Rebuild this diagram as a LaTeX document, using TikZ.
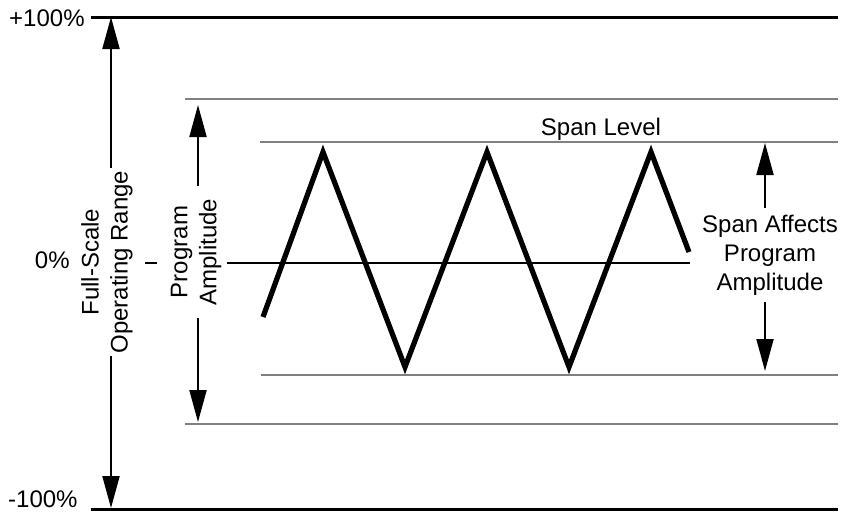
\documentclass[tikz,border=0pt]{standalone}
\usepackage{fontspec}
\setmainfont{Liberation Sans}
\usepackage{tikz}
\usetikzlibrary{arrows.meta, calc}

\begin{document}
\begin{tikzpicture}[x=0.5pt, y=-0.5pt,
    every node/.style={font=\fontsize{12}{14.5}\selectfont, inner sep=0pt},
    rangeline/.style={line width=1.5pt},
    spanline/.style={line width=1.3pt, black!50},
    levelline/.style={line width=0.9pt, black!50},
    dim/.style={line width=1pt, -{Triangle[length=16pt, width=8.5pt]}},
    wave/.style={line width=2.6pt, line join=miter}]
    \useasboundingbox (0,0) rectangle (845,514);

    % range limits
    \draw[rangeline] (91,17) -- (838,17);
    \draw[rangeline] (91,509) -- (838,509);
    \draw[spanline] (185,99) -- (838,99);
    \draw[spanline] (185,424) -- (838,424);
    \draw[levelline] (260,142) -- (838,142);
    \draw[levelline] (261,375) -- (838,375);
    \draw[line width=1pt] (145,263) -- (157,263);
    \draw[line width=1pt] (227,263) -- (690,263);

    \node[anchor=base east] (plus) at (85,26) {+100\%};
    \node[anchor=base east] (zero) at (70,268) {0\%};
    \node[anchor=base east] (minus) at (78,507) {-100\%};
    \node[anchor=base] (level) at (601,135) {Span Level};

    % program signal
    \draw[wave] (263,317) -- (323,152) -- (405,367) -- (487,152) -- (569,367)
        -- (651,152) -- (689,252);

    \coordinate (fstop) at (111,17);
    \coordinate (fsbot) at (111,508);
    \coordinate (patop) at (198,105);
    \coordinate (pabot) at (198,422);
    \coordinate (sptop) at (765,143);
    \coordinate (spbot) at (765,371);

    \node[rotate=90, align=center, inner sep=1pt] (fs) at (107,262)
        {Full-Scale\\Operating Range};
    \node[rotate=90, align=center, inner sep=6pt] (pa) at (196,252)
        {Program\\Amplitude};
    \node[align=center, inner sep=3pt] (sp) at (770,255)
        {Span Affects\\Program\\Amplitude};

    \draw[dim] (fs.east -| fstop) -- (fstop);
    \draw[dim] (fs.west -| fsbot) -- (fsbot);
    \draw[dim] (pa.east -| patop) -- (patop);
    \draw[dim] (pa.west -| pabot) -- (pabot);
    \draw[dim] (sp.north -| sptop) -- (sptop);
    \draw[dim] (sp.south -| spbot) -- (spbot);
\end{tikzpicture}
\end{document}
